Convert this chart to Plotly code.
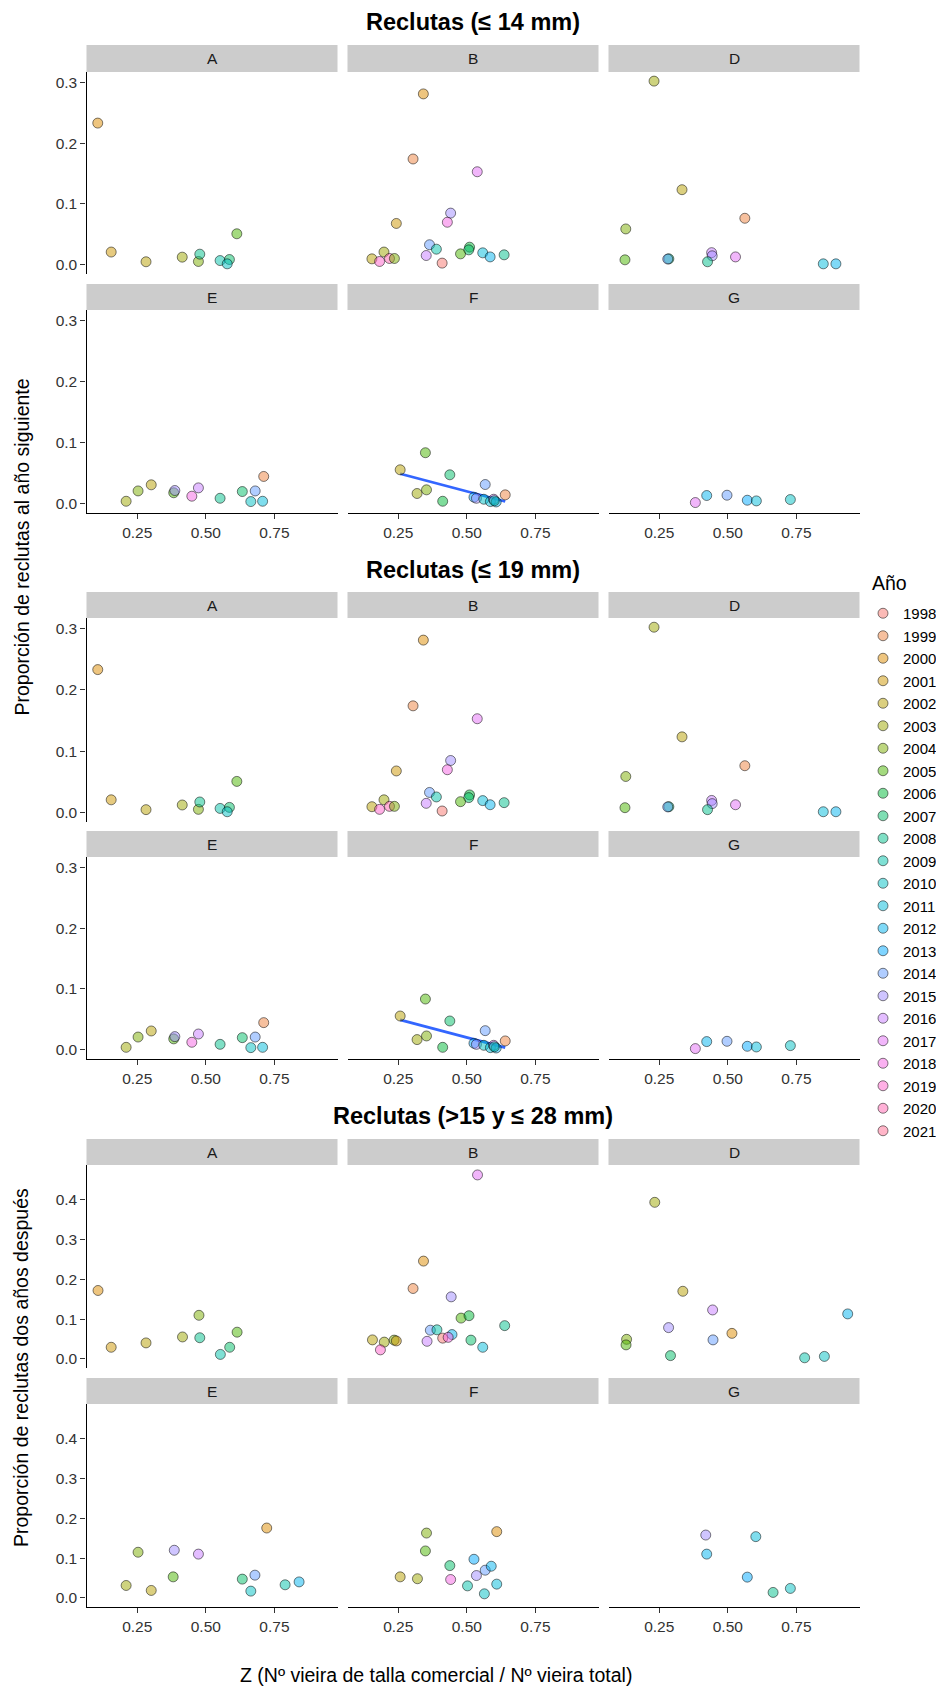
import math
import numpy as np
import plotly.graph_objects as go

# The page body adds an 8 px margin, so the figure is 8 px smaller than the window
OFF = 8
W, H = 944 - OFF, 1688 - OFF
FONT = "Liberation Sans"
ZONES = ["A", "B", "D", "E", "F", "G"]
YEARS = list(range(1998, 2022))

# ---------------- data: Reclutas (<= 14 mm), proporción al año siguiente -------------
rec14_zone = ["A"] * 10 + ["B"] * 21 + ["D"] * 13 + ["E"] * 13 + ["F"] * 15 + ["G"] * 6
rec14_z = [0.106, 0.155, 0.282, 0.414, 0.473, 0.478, 0.552, 0.586, 0.578, 0.613,
           0.3415, 0.304, 0.538, 0.441, 0.429, 0.243, 0.364, 0.389, 0.510, 0.507, 0.477,
           0.558, 0.585, 0.636, 0.352, 0.410, 0.198, 0.154, 0.182, 0.218, 0.236,
           0.231, 0.333, 0.562, 0.128, 0.125, 0.285, 0.281, 0.441, 0.443, 0.426, 0.528, 0.848, 0.894,
           0.2095, 0.253, 0.301, 0.383, 0.387, 0.449, 0.473, 0.552, 0.633, 0.680, 0.664, 0.707, 0.711,
           0.349, 0.257, 0.438, 0.3186, 0.353, 0.412, 0.567, 0.640, 0.526, 0.535, 0.562, 0.586, 0.598, 0.607, 0.600,
           0.3816, 0.423, 0.497, 0.571, 0.604, 0.728]
rec14_p = [0.233, 0.021, 0.005, 0.0126, 0.0055, 0.0175, 0.007, 0.0087, 0.0016, 0.051,
           0.281, 0.174, 0.153, 0.085, 0.070, 0.068, 0.033, 0.0257, 0.029, 0.0246, 0.018,
           0.0197, 0.013, 0.0164, 0.0153, 0.0028, 0.021, 0.0098, 0.0055, 0.0104, 0.0104,
           0.302, 0.1235, 0.0765, 0.059, 0.0082, 0.0098, 0.0095, 0.020, 0.0148, 0.005, 0.013, 0.0016, 0.0016,
           0.0041, 0.021, 0.031, 0.018, 0.0217, 0.0124, 0.026, 0.009, 0.020, 0.021, 0.0036, 0.0041, 0.0447,
           0.0835, 0.0556, 0.0474, 0.0168, 0.0228, 0.0041, 0.0315, 0.0146, 0.0107, 0.009, 0.0074, 0.0036, 0.0074, 0.003, 0.005,
           0.002, 0.0135, 0.014, 0.0058, 0.0047, 0.0069]
rec14_year = [2000, 2001, 2002, 2003, 2004, 2008, 2009, 2007, 2010, 2005,
              2000, 1999, 2017, 2015, 2018, 2001, 2014, 2009, 2006, 2007, 2005,
              2011, 2012, 2008, 2016, 1998, 2003, 2002, 2019, 2020, 2004,
              2003, 2002, 1999, 2004, 2005, 2007, 2014, 2016, 2015, 2008, 2017, 2011, 2012,
              2003, 2004, 2002, 2005, 2015, 2018, 2016, 2008, 2007, 2014, 2010, 2011, 1999,
              2005, 2002, 2007, 2003, 2004, 2006, 2014, 1999, 2013, 2015, 2010, 2011, 2016, 2012, 2009,
              2017, 2012, 2014, 2013, 2011, 2010]

# ---------------- data: Reclutas (<= 19 mm), proporción al año siguiente -------------
rec19_zone = ["A"] * 10 + ["B"] * 21 + ["D"] * 13 + ["E"] * 13 + ["F"] * 15 + ["G"] * 6
rec19_z = [0.106, 0.155, 0.282, 0.414, 0.473, 0.478, 0.552, 0.586, 0.578, 0.613,
           0.3415, 0.304, 0.538, 0.441, 0.429, 0.243, 0.364, 0.389, 0.510, 0.507, 0.477,
           0.558, 0.585, 0.636, 0.352, 0.410, 0.198, 0.154, 0.182, 0.218, 0.236,
           0.231, 0.333, 0.562, 0.128, 0.125, 0.285, 0.281, 0.441, 0.443, 0.426, 0.528, 0.848, 0.894,
           0.2095, 0.253, 0.301, 0.383, 0.387, 0.449, 0.473, 0.552, 0.633, 0.680, 0.664, 0.707, 0.711,
           0.349, 0.257, 0.438, 0.3186, 0.353, 0.412, 0.567, 0.640, 0.526, 0.535, 0.562, 0.586, 0.598, 0.607, 0.600,
           0.3816, 0.423, 0.497, 0.571, 0.604, 0.728]
rec19_p = [0.233, 0.021, 0.005, 0.0126, 0.0055, 0.0175, 0.007, 0.0087, 0.0016, 0.051,
           0.281, 0.174, 0.153, 0.085, 0.070, 0.068, 0.033, 0.0257, 0.029, 0.0246, 0.018,
           0.0197, 0.013, 0.0164, 0.0153, 0.0028, 0.021, 0.0098, 0.0055, 0.0104, 0.0104,
           0.302, 0.1235, 0.0765, 0.059, 0.0082, 0.0098, 0.0095, 0.020, 0.0148, 0.005, 0.013, 0.0016, 0.0016,
           0.0041, 0.021, 0.031, 0.018, 0.0217, 0.0124, 0.026, 0.009, 0.020, 0.021, 0.0036, 0.0041, 0.0447,
           0.0835, 0.0556, 0.0474, 0.0168, 0.0228, 0.0041, 0.0315, 0.0146, 0.0107, 0.009, 0.0074, 0.0036, 0.0074, 0.003, 0.005,
           0.002, 0.0135, 0.014, 0.0058, 0.0047, 0.0069]
rec19_year = [2000, 2001, 2002, 2003, 2004, 2008, 2009, 2007, 2010, 2005,
              2000, 1999, 2017, 2015, 2018, 2001, 2014, 2009, 2006, 2007, 2005,
              2011, 2012, 2008, 2016, 1998, 2003, 2002, 2019, 2020, 2004,
              2003, 2002, 1999, 2004, 2005, 2007, 2014, 2016, 2015, 2008, 2017, 2011, 2012,
              2003, 2004, 2002, 2005, 2015, 2018, 2016, 2008, 2007, 2014, 2010, 2011, 1999,
              2005, 2002, 2007, 2003, 2004, 2006, 2014, 1999, 2013, 2015, 2010, 2011, 2016, 2012, 2009,
              2017, 2012, 2014, 2013, 2011, 2010]

# ---------------- data: Reclutas (>15 y <= 28 mm), proporción dos años después -------
rec28_zone = ["A"] * 9 + ["B"] * 20 + ["D"] * 12 + ["E"] * 12 + ["F"] * 14 + ["G"] * 6
rec28_z = [0.107, 0.155, 0.282, 0.415, 0.475, 0.478, 0.553, 0.587, 0.614,
           0.539, 0.342, 0.304, 0.443, 0.479, 0.508, 0.638, 0.367, 0.391, 0.446,
           0.412, 0.432, 0.355, 0.515, 0.558, 0.156, 0.199, 0.185, 0.235, 0.243,
           0.2336, 0.336, 0.4446, 0.284, 0.515, 0.446, 0.131, 0.129, 0.291, 0.780, 0.852, 0.937,
           0.2095, 0.253, 0.301, 0.381, 0.385, 0.473, 0.633, 0.679, 0.664, 0.722, 0.789, 0.840,
           0.257, 0.320, 0.353, 0.349, 0.438, 0.441, 0.5025, 0.526, 0.535, 0.567, 0.589, 0.564, 0.609, 0.609,
           0.4195, 0.423, 0.602, 0.571, 0.665, 0.728]
rec28_p = [0.172, 0.029, 0.040, 0.055, 0.1095, 0.053, 0.011, 0.029, 0.067,
           0.463, 0.246, 0.177, 0.156, 0.1025, 0.1085, 0.0835, 0.072, 0.073, 0.061,
           0.052, 0.054, 0.044, 0.047, 0.029, 0.0476, 0.042, 0.0225, 0.047, 0.045,
           0.394, 0.170, 0.123, 0.0785, 0.064, 0.0476, 0.049, 0.035, 0.008, 0.0025, 0.006, 0.113,
           0.031, 0.1147, 0.0185, 0.0527, 0.1197, 0.110, 0.047, 0.057, 0.0168, 0.1757, 0.0327, 0.040,
           0.0527, 0.048, 0.163, 0.118, 0.081, 0.046, 0.030, 0.097, 0.056, 0.0695, 0.0795, 0.010, 0.0344, 0.1666,
           0.158, 0.110, 0.154, 0.052, 0.0135, 0.0236]
rec28_year = [2000, 2001, 2002, 2003, 2004, 2008, 2009, 2007, 2005,
              2017, 2000, 1999, 2015, 2005, 2006, 2008, 2014, 2009, 2012,
              1998, 2018, 2016, 2007, 2011, 2002, 2003, 2019, 2004, 2001,
              2003, 2002, 2016, 2015, 2000, 2014, 2004, 2005, 2007, 2009, 2010, 2012,
              2003, 2004, 2002, 2005, 2015, 2016, 2007, 2014, 2010, 2000, 2009, 2012,
              2002, 2003, 2004, 2005, 2007, 2018, 2009, 2013, 2015, 2014, 2012, 2010, 2011, 2000,
              2015, 2012, 2011, 2013, 2008, 2010]

TITLES = ["Reclutas (≤ 14 mm)", "Reclutas (≤ 19 mm)", "Reclutas (>15 y ≤ 28 mm)"]
Y_TITLES = ["Proporción de reclutas al año siguiente", "Proporción de reclutas dos años después"]
X_TITLE = "Z (Nº vieira de talla comercial / Nº vieira total)"
LEGEND_TITLE = "Año"
X_TICKS = [0.25, 0.50, 0.75]
X_TICKTEXT = ["0.25", "0.50", "0.75"]
Y_TICKS = [[0.0, 0.1, 0.2, 0.3], [0.0, 0.1, 0.2, 0.3], [0.0, 0.1, 0.2, 0.3, 0.4]]

# ---------------- colours: ggplot2 hue palette ---------------------------------------
def hcl_rgb(h, c=100.0, l=65.0):
    Xn, Yn, Zn = 95.047, 100.0, 108.883
    hr = math.radians(h)
    U, V = c * math.cos(hr), c * math.sin(hr)
    Y = Yn * ((l + 16) / 116) ** 3 if l > 8 else Yn * l / 903.3
    den = Xn + 15 * Yn + 3 * Zn
    un, vn = 4 * Xn / den, 9 * Yn / den
    u = U / (13 * l) + un
    v = V / (13 * l) + vn
    X = 9.0 * Y * u / (4 * v)
    Z = -X / 3 - 5 * Y + 3 * Y / v
    X, Y, Z = X / 100, Y / 100, Z / 100
    r = 3.240479 * X - 1.537150 * Y - 0.498535 * Z
    g = -0.969256 * X + 1.875992 * Y + 0.041556 * Z
    b = 0.055648 * X - 0.204043 * Y + 1.057311 * Z

    def gam(t):
        t = 12.92 * t if t <= 0.0031308 else 1.055 * t ** (1 / 2.4) - 0.055
        return int(round(255 * min(1, max(0, t))))
    return gam(r), gam(g), gam(b)

ALPHA = 0.5
n = len(YEARS)
YEAR_RGB = {yr: hcl_rgb(15 + 360 * i / n) for i, yr in enumerate(YEARS)}

def fill(yr):
    r, g, b = YEAR_RGB[yr]
    return f"rgba({r},{g},{b},{ALPHA})"

EDGE = f"rgba(0,0,0,{ALPHA})"
TICK_COL = "#333333"

# ---------------- layout geometry (window pixels) ------------------------------------
COLS = [(86.5, 337.5), (347.5, 598.5), (608.5, 859.5)]
BLOCKS = [
    dict(title_y=22, rows=[(45, 72, 274), (284, 310, 513)], yr=[-0.0151, 0.317]),
    dict(title_y=570, rows=[(592, 618, 822), (831, 857, 1059)], yr=[-0.0151, 0.317]),
    dict(title_y=1116, rows=[(1139, 1165, 1368), (1378, 1404, 1607)], yr=[-0.0232, 0.488]),
]
X_RANGE = [0.065, 0.98]
DATA = [(rec14_zone, rec14_z, rec14_p, rec14_year),
        (rec19_zone, rec19_z, rec19_p, rec19_year),
        (rec28_zone, rec28_z, rec28_p, rec28_year)]

def px(x):
    return (x - OFF) / W

def py(y):
    return 1 - (y - OFF) / H

fig = go.Figure()
layout = dict(width=W, height=H, margin=dict(l=0, r=0, t=0, b=0),
              paper_bgcolor="white", plot_bgcolor="white",
              font=dict(family=FONT, color="black"))
shapes, annotations = [], []

for b, blk in enumerate(BLOCKS):
    zl, zz, pp, yy = DATA[b]
    annotations.append(dict(text=f"<b>{TITLES[b]}</b>", x=px(473), y=py(blk["title_y"]),
                            xref="paper", yref="paper", showarrow=False,
                            xanchor="center", yanchor="middle",
                            font=dict(size=23.5, family=FONT, color="black")))
    for r, (s0, p0, p1) in enumerate(blk["rows"]):
        for c, (x0, x1) in enumerate(COLS):
            idx = b * 6 + r * 3 + c + 1
            zone = ZONES[r * 3 + c]
            xa = "xaxis" if idx == 1 else f"xaxis{idx}"
            ya = "yaxis" if idx == 1 else f"yaxis{idx}"
            xr = "x" if idx == 1 else f"x{idx}"
            yrf = "y" if idx == 1 else f"y{idx}"
            sel = [i for i, zn in enumerate(zl) if zn == zone]
            xs = [zz[i] for i in sel]
            ys = [pp[i] for i in sel]
            cols = [fill(yy[i]) for i in sel]
            if b < 2 and zone == "F":
                k, q = np.polyfit(xs, ys, 1)
                lx = np.array([min(xs), max(xs)])
                fig.add_trace(go.Scatter(x=lx, y=k * lx + q, mode="lines",
                                         line=dict(color="#3366FF", width=2.7),
                                         xaxis=xr, yaxis=yrf, showlegend=False,
                                         hoverinfo="skip"))
            fig.add_trace(go.Scatter(x=xs, y=ys, mode="markers", xaxis=xr, yaxis=yrf,
                                     marker=dict(size=10, color=cols,
                                                 line=dict(color=EDGE, width=1)),
                                     showlegend=False, hoverinfo="skip"))
            bottom = r == 1
            left = c == 0
            layout[xa] = dict(domain=[px(x0), px(x1)], range=X_RANGE, anchor=yrf,
                              showgrid=False, zeroline=False,
                              tickvals=X_TICKS, ticktext=X_TICKTEXT,
                              showline=bottom, linecolor="black", linewidth=1.3,
                              ticks="outside" if bottom else "", ticklen=5,
                              tickwidth=1.2, tickcolor=TICK_COL,
                              showticklabels=bottom,
                              tickfont=dict(size=15.5, color=TICK_COL, family=FONT))
            layout[ya] = dict(domain=[py(p1), py(p0)], range=blk["yr"], anchor=xr,
                              showgrid=False, zeroline=False,
                              tickvals=Y_TICKS[b], ticktext=[f"{v:.1f}" for v in Y_TICKS[b]],
                              showline=left, linecolor="black", linewidth=1.3,
                              ticks="outside" if left else "", ticklen=5,
                              tickwidth=1.2, tickcolor=TICK_COL,
                              showticklabels=left,
                              tickfont=dict(size=15.5, color=TICK_COL, family=FONT))
            shapes.append(dict(type="rect", xref="paper", yref="paper",
                               x0=px(x0), x1=px(x1), y0=py(p0), y1=py(s0),
                               fillcolor="#CCCCCC", line=dict(width=0), layer="below"))
            annotations.append(dict(text=zone, x=px((x0 + x1) / 2), y=py((s0 + p0) / 2),
                                    xref="paper", yref="paper", showarrow=False,
                                    xanchor="center", yanchor="middle",
                                    font=dict(size=15.5, family=FONT, color="#1A1A1A")))

annotations.append(dict(text=Y_TITLES[0], x=px(21), y=py(547.5), xref="paper", yref="paper",
                        showarrow=False, textangle=-90, xanchor="center", yanchor="middle",
                        font=dict(size=19.5, family=FONT, color="black")))
annotations.append(dict(text=Y_TITLES[1], x=px(21), y=py(1368), xref="paper", yref="paper",
                        showarrow=False, textangle=-90, xanchor="center", yanchor="middle",
                        font=dict(size=19.5, family=FONT, color="black")))
annotations.append(dict(text=X_TITLE, x=px(436), y=py(1675), xref="paper", yref="paper",
                        showarrow=False, xanchor="center", yanchor="middle",
                        font=dict(size=19.5, family=FONT, color="black")))
annotations.append(dict(text=LEGEND_TITLE, x=px(870), y=py(583), xref="paper", yref="paper",
                        showarrow=False, xanchor="left", yanchor="middle",
                        font=dict(size=19.5, family=FONT, color="black")))

# legend entries
for yr in YEARS:
    fig.add_trace(go.Scatter(x=[None], y=[None], mode="markers", name=str(yr),
                             marker=dict(size=10, color=fill(yr), line=dict(color=EDGE, width=1)),
                             showlegend=True, hoverinfo="skip"))

layout["legend"] = dict(x=px(863), y=py(597), xanchor="left", yanchor="top",
                        bgcolor="rgba(0,0,0,0)", borderwidth=0,
                        font=dict(size=15, family=FONT, color="black"),
                        itemsizing="trace", tracegroupgap=0)
layout["shapes"] = shapes
layout["annotations"] = annotations
fig.update_layout(**layout)
fig.write_html("out.html")
